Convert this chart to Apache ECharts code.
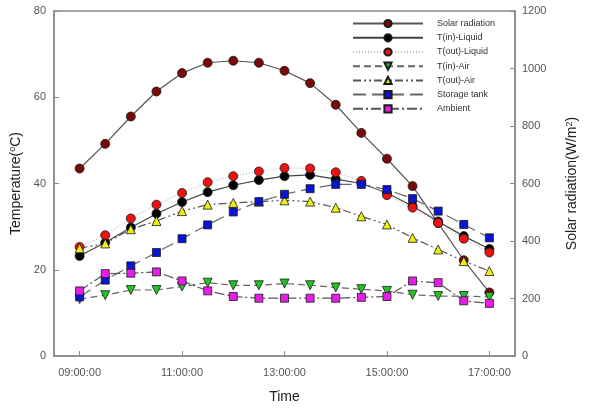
<!DOCTYPE html>
<html>
<head>
<meta charset="utf-8">
<script src="https://cdn.jsdelivr.net/npm/echarts@6/dist/echarts.min.js"></script>
<style>html,body{margin:0;padding:0;background:#fff;}#c{width:590px;height:409px;}</style>
</head>
<body>
<div id="c"></div>
<script>
var times = ["09:00","09:30","10:00","10:30","11:00","11:30","12:00","12:30","13:00","13:30","14:00","14:30","15:00","15:30","16:00","16:30","17:00"];
var xTickLabels = ["09:00:00","11:00:00","13:00:00","15:00:00","17:00:00"];
var solarRadiation = [652,738,833,920,984,1020,1027,1020,992,949,874,776,686,591,462,333,221];
var tInLiquid = [23.2,26.3,29.8,33.0,35.7,38.0,39.6,40.8,41.7,42.0,41.0,40.0,37.8,34.8,31.2,27.8,24.8];
var tOutLiquid = [25.3,28.0,31.9,35.1,37.8,40.3,41.7,42.8,43.6,43.5,42.6,40.6,37.3,34.4,30.9,27.2,24.0];
var tInAir = [13.2,14.1,15.3,15.3,16.1,17.0,16.4,16.4,16.8,16.4,15.9,15.5,15.1,14.2,13.9,13.9,13.7];
var tOutAir = [25.0,26.1,29.4,31.3,33.6,35.1,35.5,35.8,36.1,35.8,34.4,32.4,30.5,27.4,24.7,22.0,19.7];
var storageTank = [13.7,17.6,20.9,24.0,27.2,30.4,33.4,35.8,37.5,38.8,39.8,39.8,38.6,36.5,33.6,30.5,27.4];
var ambient = [15.1,19.1,19.2,19.5,17.4,15.1,13.8,13.4,13.4,13.4,13.4,13.6,13.8,17.4,17.0,12.8,12.2];

function toHours(t){var p=t.split(":");return +p[0] + (+p[1])/60;}
var xs = times.map(toHours);
var tickVals = xTickLabels.map(toHours);
function pairs(arr){return arr.map(function(v,i){return [xs[i], v];});}

var font = "Liberation Sans, Arial, sans-serif";
var axisCol = "#8a8a8a";
var lineCol = "#5a5a5a";

function mk(name, data, yIdx, symbol, size, fill, ltype, lcol, rot){
  return {
    name: name, type: "line", yAxisIndex: yIdx, data: pairs(data),
    symbol: symbol, symbolSize: size, symbolRotate: rot || 0, showSymbol: true,
    lineStyle: {color: lcol || lineCol, width: 1.2, type: ltype},
    itemStyle: {color: fill, borderColor: "#1a1a1a", borderWidth: 0.8},
    emphasis: {disabled: true}, animation: false
  };
}

var chart = echarts.init(document.getElementById("c"), null, {renderer: "canvas"});
chart.setOption({
  animation: false,
  textStyle: {fontFamily: font},
  grid: {left: 54, right: 75, top: 11, bottom: 52, show: true, borderColor: axisCol, borderWidth: 1.5, backgroundColor: "transparent"},
  legend: {
    orient: "vertical", left: 347, top: 14, itemWidth: 70, itemHeight: 9, itemGap: 5,
    textStyle: {fontSize: 9, color: "#333", fontFamily: font, padding: [0,0,0,9]},
    data: ["Solar radiation","T(in)-Liquid","T(out)-Liquid","T(in)-Air","T(out)-Air","Storage tank","Ambient"]
  },
  xAxis: {
    type: "value", min: 8.5, max: 17.5,
    name: "Time", nameLocation: "middle", nameGap: 34,
    nameTextStyle: {fontSize: 14, color: "#222", fontFamily: font},
    axisLine: {show: true, lineStyle: {color: axisCol, width: 1.5}},
    axisTick: {show: true, inside: true, length: 5, customValues: tickVals, lineStyle: {color: axisCol}},
    axisLabel: {customValues: tickVals, margin: 11, fontSize: 11, color: "#555", fontFamily: font,
      formatter: function(v){var i = tickVals.indexOf(v); return i >= 0 ? xTickLabels[i] : "";}},
    splitLine: {show: false}
  },
  yAxis: [
    {
      type: "value", min: 0, max: 80, interval: 20, position: "left",
      name: "{a|Temperature(}{s|o}{a|C)}", nameLocation: "middle", nameGap: 30, nameRotate: 90,
      nameTextStyle: {rich: {a: {fontSize: 14, color: "#222", fontFamily: font}, s: {fontSize: 9, color: "#222", fontFamily: font, verticalAlign: "top", padding: [0,0,6,0]}}},
      axisLine: {show: true, lineStyle: {color: axisCol, width: 1.5}},
      axisTick: {show: true, inside: true, length: 5, lineStyle: {color: axisCol}},
      axisLabel: {margin: 8, fontSize: 11, color: "#555", fontFamily: font, formatter: function(v){return String(v);}},
      splitLine: {show: false}
    },
    {
      type: "value", min: 0, max: 1200, interval: 200, position: "right",
      name: "{a|Solar radiation(W/m}{s|2}{a|)}", nameLocation: "middle", nameGap: 50, nameRotate: 90,
      nameTextStyle: {rich: {a: {fontSize: 14, color: "#222", fontFamily: font}, s: {fontSize: 9, color: "#222", fontFamily: font, verticalAlign: "top", padding: [0,0,6,0]}}},
      axisLine: {show: true, lineStyle: {color: axisCol, width: 1.5}},
      axisTick: {show: true, inside: true, length: 5, lineStyle: {color: axisCol}},
      axisLabel: {margin: 7, fontSize: 11, color: "#555", fontFamily: font, formatter: function(v){return String(v);}},
      splitLine: {show: false}
    }
  ],
  series: [
    mk("Solar radiation", solarRadiation, 1, "circle", 9, "#7a0a0a", "solid", "#555"),
    mk("T(in)-Liquid", tInLiquid, 0, "circle", 9, "#000000", "solid", "#444"),
    mk("T(out)-Liquid", tOutLiquid, 0, "circle", 9, "#ee1111", [1,2], "#bdbdbd"),
    mk("T(in)-Air", tInAir, 0, "triangle", 9, "#22c422", [7,4], "#666", 180),
    mk("T(out)-Air", tOutAir, 0, "triangle", 9, "#eeee10", [8,3,2,3,2,3], "#555"),
    mk("Storage tank", storageTank, 0, "rect", 8, "#0a14d4", [13,6], "#666"),
    mk("Ambient", ambient, 0, "rect", 8, "#e81ee8", [10,3,2,3], "#555")
  ]
});
</script>
</body>
</html>
